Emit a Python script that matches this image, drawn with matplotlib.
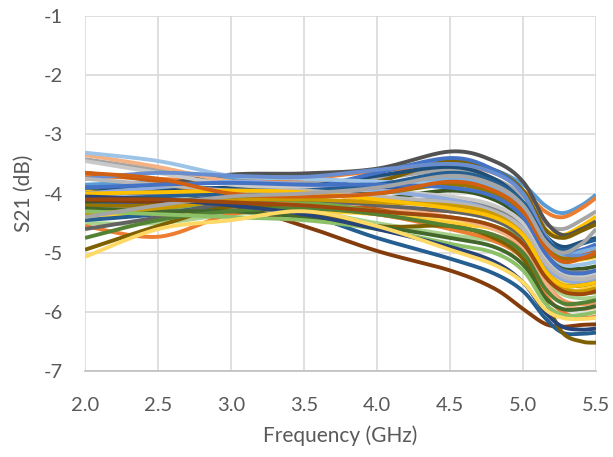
import numpy as np
import matplotlib
matplotlib.use("Agg")
import matplotlib.pyplot as plt

# sweep points (GHz) shared by every measured trace
freq = [2.0, 2.5, 3.0, 3.5, 4.0, 4.5, 4.8, 5.0, 5.15, 5.27, 5.4, 5.5]

# S21 traces (dB), one list per sample
s01 = [-3.85, -3.80, -3.75, -3.72, -3.60, -3.45, -3.60, -3.85, -4.20, -4.33, -4.20, -4.02]
s02 = [-3.70, -3.75, -3.80, -3.75, -3.62, -3.52, -3.65, -3.95, -4.30, -4.40, -4.25, -4.07]
s03 = [-3.42, -3.60, -3.80, -3.82, -3.75, -3.60, -3.75, -4.05, -4.50, -4.60, -4.45, -4.30]
s04 = [-3.95, -3.95, -3.93, -3.90, -3.85, -3.70, -3.85, -4.15, -4.60, -4.70, -4.55, -4.39]
s05 = [-4.00, -3.85, -3.68, -3.66, -3.58, -3.29, -3.45, -3.80, -4.45, -4.70, -4.60, -4.47]
s06 = [-4.30, -4.15, -4.05, -3.98, -3.80, -3.45, -3.60, -3.95, -4.60, -4.75, -4.63, -4.52]
s07 = [-3.90, -3.92, -3.90, -3.88, -3.70, -3.55, -3.75, -4.15, -4.70, -4.90, -4.82, -4.75]
s08 = [-4.00, -4.00, -3.98, -3.92, -3.65, -3.40, -3.60, -4.00, -4.75, -5.00, -4.95, -4.86]
s09 = [-4.25, -4.20, -4.10, -4.00, -3.90, -3.75, -3.90, -4.25, -4.85, -5.05, -4.98, -4.92]
s10 = [-3.65, -3.80, -4.10, -4.20, -4.25, -4.30, -4.40, -4.65, -5.00, -5.10, -5.05, -4.98]
s11 = [-4.45, -4.30, -4.20, -4.25, -4.30, -4.45, -4.55, -4.80, -5.05, -5.15, -5.12, -5.08]
s12 = [-4.15, -4.12, -4.10, -4.15, -4.10, -3.95, -4.10, -4.45, -5.00, -5.25, -5.27, -5.23]
s13 = [-4.35, -4.30, -4.25, -4.20, -4.15, -4.10, -4.25, -4.55, -5.10, -5.30, -5.33, -5.31]
s14 = [-4.20, -4.15, -4.05, -4.00, -3.95, -3.85, -4.00, -4.35, -5.00, -5.40, -5.50, -5.48]
s15 = [-4.40, -4.35, -4.30, -4.30, -4.35, -4.50, -4.60, -4.85, -5.30, -5.50, -5.58, -5.57]
s16 = [-4.30, -4.25, -4.15, -4.15, -4.30, -4.40, -4.55, -4.80, -5.35, -5.60, -5.68, -5.67]
s17 = [-4.50, -4.50, -4.35, -4.30, -4.50, -4.70, -4.80, -5.00, -5.45, -5.70, -5.77, -5.75]
s18 = [-4.05, -4.10, -4.15, -4.20, -4.35, -4.55, -4.70, -4.95, -5.50, -5.80, -5.87, -5.84]
s19 = [-3.35, -3.55, -3.80, -3.90, -4.20, -4.40, -4.60, -4.90, -5.50, -5.85, -5.95, -5.92]
s20 = [-4.55, -4.73, -4.35, -4.25, -4.35, -4.60, -4.80, -5.10, -5.70, -6.00, -6.10, -6.08]
s21 = [-4.10, -4.15, -4.20, -4.55, -4.97, -5.30, -5.60, -5.95, -6.20, -6.25, -6.22, -6.21]
s22 = [-4.45, -4.35, -4.20, -4.35, -4.75, -5.10, -5.35, -5.65, -6.10, -6.35, -6.37, -6.35]
s23 = [-4.95, -4.55, -4.22, -4.30, -4.55, -4.55, -4.75, -5.10, -5.80, -6.35, -6.50, -6.52]
s24 = [-3.31, -3.45, -3.70, -3.75, -3.80, -3.85, -4.00, -4.30, -4.90, -5.20, -5.20, -5.15]
s25 = [-3.45, -3.65, -3.85, -3.90, -3.95, -4.05, -4.20, -4.50, -5.10, -5.35, -5.40, -5.35]
s26 = [-3.75, -3.65, -3.70, -3.72, -3.60, -3.50, -3.65, -4.00, -4.70, -5.00, -5.05, -5.00]
s27 = [-4.00, -3.90, -3.80, -3.85, -3.95, -4.10, -4.30, -4.60, -5.20, -5.45, -5.50, -5.45]
s28 = [-4.60, -4.40, -4.15, -4.10, -4.20, -4.30, -4.45, -4.75, -5.30, -5.55, -5.55, -5.50]
s29 = [-4.20, -4.20, -4.10, -4.05, -4.00, -3.85, -4.00, -4.35, -4.90, -5.10, -5.10, -5.05]
s30 = [-4.25, -4.30, -4.30, -4.40, -4.55, -4.75, -4.90, -5.20, -5.75, -5.95, -5.95, -5.90]
s31 = [-4.10, -4.05, -4.00, -3.95, -3.85, -3.65, -3.80, -4.15, -4.75, -4.95, -4.85, -4.78]
s32 = [-3.75, -3.85, -3.95, -3.95, -4.05, -4.15, -4.30, -4.60, -5.15, -5.40, -5.45, -5.40]
s33 = [-4.75, -4.45, -4.30, -4.25, -4.35, -4.55, -4.70, -5.00, -5.60, -5.85, -5.85, -5.80]
s34 = [-4.35, -4.25, -4.12, -4.10, -4.15, -4.20, -4.35, -4.70, -5.30, -5.60, -5.65, -5.60]
s35 = [-3.90, -3.85, -3.82, -3.85, -3.85, -3.90, -4.05, -4.40, -5.00, -5.30, -5.35, -5.30]
s36 = [-4.30, -4.35, -4.40, -4.45, -4.60, -4.85, -5.00, -5.30, -5.85, -6.05, -6.05, -6.00]
s37 = [-4.00, -3.98, -3.95, -3.98, -4.10, -4.25, -4.40, -4.70, -5.30, -5.55, -5.55, -5.50]
s38 = [-3.65, -3.75, -4.00, -4.05, -4.00, -3.80, -3.95, -4.30, -4.90, -5.15, -5.10, -5.00]
s39 = [-4.05, -4.10, -4.20, -4.35, -4.60, -4.90, -5.15, -5.50, -6.00, -6.25, -6.30, -6.28]
s40 = [-5.07, -4.60, -4.45, -4.30, -4.55, -4.95, -5.20, -5.50, -5.95, -6.10, -6.12, -6.10]
s41 = [-4.40, -4.20, -4.05, -4.00, -3.90, -3.70, -3.85, -4.20, -4.80, -5.00, -4.85, -4.60]
s42 = [-4.10, -4.10, -4.15, -4.20, -4.30, -4.40, -4.55, -4.85, -5.40, -5.65, -5.70, -5.65]

traces = [s01, s02, s03, s04, s05, s06, s07, s08, s09, s10, s11, s12, s13, s14,
          s15, s16, s17, s18, s19, s20, s21, s22, s23, s24, s25, s26, s27, s28,
          s29, s30, s31, s32, s33, s34, s35, s36, s37, s38, s39, s40, s41, s42]

colors = ['#5B9BD5', '#ED7D31', '#A5A5A5', '#FFC000', '#525252', '#7F6000',
          '#1F4E79', '#4472C4', '#7CAFDD', '#C55A11', '#FFD966', '#385723',
          '#848484', '#335AA1', '#FFCD33', '#70AD47', '#A9D18E', '#F1975A',
          '#F4B183', '#ED7D31', '#843C0C', '#255E91', '#7F6000', '#9DC3E6',
          '#C9C9C9', '#698ED0', '#8FAADC', '#636363', '#997300', '#43682B',
          '#255E91', '#B7B7B7', '#548235', '#CC9A00', '#4472C4', '#8CC168',
          '#FFC000', '#D26012', '#264478', '#FFD966', '#A5A5A5', '#9E480E']


def smooth(x, y, n=24):
    # Bezier smoothing through the points, like a spreadsheet "smoothed line"
    p = np.column_stack([x, y]).astype(float)
    p = np.vstack([p[0], p, p[-1]])
    out = []
    t = np.linspace(0, 1, n)[:, None]
    for i in range(1, len(p) - 2):
        p0, p1, p2, p3 = p[i - 1], p[i], p[i + 1], p[i + 2]
        c1 = p1 + (p2 - p0) / 6.0
        c2 = p2 - (p3 - p1) / 6.0
        seg = ((1 - t) ** 3) * p1 + 3 * ((1 - t) ** 2) * t * c1 + 3 * (1 - t) * t ** 2 * c2 + t ** 3 * p2
        out.append(seg if i == 1 else seg[1:])
    out = np.vstack(out)
    return out[:, 0], out[:, 1]


plt.rcParams['font.family'] = ['Lato', 'DejaVu Sans']
plt.rcParams['axes.unicode_minus'] = False

fig = plt.figure(figsize=(6.13, 4.57), dpi=100)
ax = fig.add_axes([0.1387, 0.188, 0.8336, 0.777])

for vals, c in zip(traces, colors):
    xs, ys = smooth(freq, vals)
    ax.plot(xs, ys, color=c, lw=2.8, solid_capstyle='butt')

ax.set_xlim(2.0, 5.5)
ax.set_ylim(-7, -1)
ax.set_xticks(np.arange(2.0, 5.51, 0.5))
ax.set_xticklabels(['%.1f' % v for v in np.arange(2.0, 5.51, 0.5)])
ax.set_yticks(range(-7, 0))
ax.grid(True, color='#D9D9D9', lw=1.2)
ax.set_axisbelow(True)
for side in ['top', 'right', 'left']:
    ax.spines[side].set_visible(False)
ax.spines['bottom'].set_color('#BFBFBF')
ax.spines['bottom'].set_linewidth(1.2)
ax.tick_params(length=0, labelsize=14.5, labelcolor='#595959')
ax.tick_params(axis='x', pad=19)
ax.tick_params(axis='y', pad=16)
ax.set_xlabel('Frequency (GHz)', fontsize=15, color='#595959', labelpad=8)
ax.set_ylabel('S21 (dB)', fontsize=15, color='#595959', labelpad=7)

fig.savefig('out.png', dpi=100)
